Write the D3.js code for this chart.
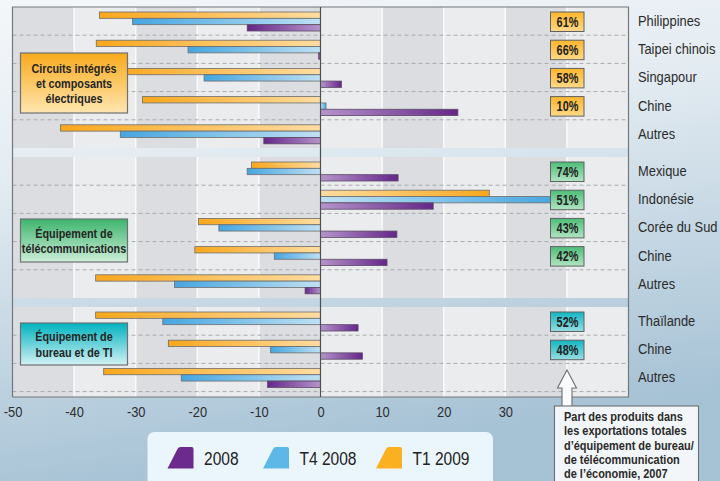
<!DOCTYPE html>
<html>
<head>
<meta charset="utf-8">
<script src="https://cdn.jsdelivr.net/npm/d3@7"></script>
<style>
  html, body { margin: 0; padding: 0; }
  body { width: 720px; height: 481px; overflow: hidden; }
  svg { display: block; }
</style>
</head>
<body>
<svg id="chart" width="720" height="481"></svg>
<script>
// ---------------------------------------------------------------------------
// Data (values in %)
// ---------------------------------------------------------------------------
const groupNames = [
  ["Circuits intégrés", "et composants", "électriques"],
  ["Équipement de", "télécommunications"],
  ["Équipement de", "bureau et de TI"],
];
const countries = [
  ["Philippines", "Taipei chinois", "Singapour", "Chine", "Autres"],
  ["Mexique", "Indonésie", "Corée du Sud", "Chine", "Autres"],
  ["Thaïlande", "Chine", "Autres"],
];
const seriesNames = ["T1 2009", "T4 2008", "2008"];   // top to bottom inside a row
const valT1_2009 = [
  [-35.9, -36.4, -33.5, -28.9, -42.2],
  [-11.2, 27.4, -19.8, -20.4, -36.5],
  [-36.5, -24.7, -35.2],
];
const valT4_2008 = [
  [-30.5, -21.5, -18.9, 0.9, -32.5],
  [-11.9, 38.5, -16.5, -7.5, -23.7],
  [-25.6, -8.1, -22.6],
];
const val2008 = [
  [-11.9, -0.3, 3.4, 22.3, -9.2],
  [12.6, 18.3, 12.4, 10.8, -2.5],
  [6.1, 6.8, -8.6],
];
const shares = [
  ["61%", "66%", "58%", "10%", null],
  ["74%", "51%", "43%", "42%", null],
  ["52%", "48%", null],
];
const xTicks = [-50, -40, -30, -20, -10, 0, 10, 20, 30];
const legendOrder = ["2008", "T4 2008", "T1 2009"];
const noteLines = [
  "Part des produits dans",
  "les exportations totales",
  "d\u2019équipement de bureau/",
  "de télécommunication",
  "de l\u2019économie, 2007",
];

// ---------------------------------------------------------------------------
// Style constants
// ---------------------------------------------------------------------------
const FONT = '"Liberation Sans", Arial, sans-serif';
// Colours keyed by series position in seriesNames (object keys like "2008"
// would be reordered by JS, so use a Map).
const SERIES_COLOR = new Map([
  ["T1 2009", { dark: "#f9a71c", light: "#ffdca0", swatch: "#fbb022" }],
  ["T4 2008", { dark: "#45a6e0", light: "#bfe0f4", swatch: "#5db8e8" }],
  ["2008",    { dark: "#652689", light: "#b595cb", swatch: "#6b2a8c" }],
]);
const GROUP_COLOR = [
  { top: "#f9aa1c", bot: "#fee6b0", badgeTop: "#fdb62a", badgeBot: "#fed888" },
  { top: "#3db46d", bot: "#cdeed8", badgeTop: "#4cbd77", badgeBot: "#b2e4c3" },
  { top: "#00b3bf", bot: "#d2f1f4", badgeTop: "#10b5c1", badgeBot: "#98dde3" },
];

const X0 = 12.5, X1 = 628.5;
const ROW_H = 28.2;
const panelTop = [7, 157, 307];
const PLOT_BOTTOM = 397;

// The reference uses a condensed face; squeeze Liberation Sans horizontally
// around each text's own x so anchors stay put.
function squeeze(sel, k) {
  sel.attr("transform", function () {
    const xv = +this.getAttribute("x") || 0;
    return `translate(${xv * (1 - k)},0) scale(${k},1)`;
  });
}

const svg = d3.select("#chart").style("font-family", FONT);
const defs = svg.append("defs");

// Background gradient
const bg = defs.append("linearGradient").attr("id", "bg")
  .attr("x1", 0).attr("y1", 0).attr("x2", 0.25).attr("y2", 1);
bg.append("stop").attr("offset", "0%").attr("stop-color", "#f4f7fa");
bg.append("stop").attr("offset", "35%").attr("stop-color", "#e4ecf2");
bg.append("stop").attr("offset", "100%").attr("stop-color", "#a6c2d5");
svg.append("rect").attr("width", 720).attr("height", 481).attr("fill", "url(#bg)");

function vGrad(id, top, bot) {
  const g = defs.append("linearGradient").attr("id", id)
    .attr("x1", 0).attr("y1", 0).attr("x2", 0).attr("y2", 1);
  g.append("stop").attr("offset", "0%").attr("stop-color", top);
  g.append("stop").attr("offset", "100%").attr("stop-color", bot);
}
// bar gradients: dark at the far end, light near zero
seriesNames.forEach((s, i) => {
  const c = SERIES_COLOR.get(s);
  ["neg", "pos"].forEach(dir => {
    const g = defs.append("linearGradient").attr("id", `bar${i}${dir}`)
      .attr("x1", dir === "neg" ? 0 : 1).attr("x2", dir === "neg" ? 1 : 0)
      .attr("y1", 0).attr("y2", 0);
    g.append("stop").attr("offset", "0%").attr("stop-color", c.dark);
    g.append("stop").attr("offset", "100%").attr("stop-color", c.light);
  });
});
GROUP_COLOR.forEach((c, i) => {
  vGrad(`box${i}`, c.top, c.bot);
  vGrad(`badge${i}`, c.badgeTop, c.badgeBot);
});

// ---------------------------------------------------------------------------
// Scales
// ---------------------------------------------------------------------------
const x = d3.scaleLinear().domain([-50, 50]).range([X0, X1]);
const yRow = countries.map((c, gi) => d3.scaleBand()
  .domain(c)
  .range([panelTop[gi], panelTop[gi] + c.length * ROW_H]));
const ySeries = d3.scaleBand().domain(seriesNames).range([5, 24]);

// ---------------------------------------------------------------------------
// Panels: alternating columns, gridlines, dashed row separators
// ---------------------------------------------------------------------------
const bands = d3.range(-50, 50, 10);
countries.forEach((c, gi) => {
  const top = panelTop[gi];
  const bottom = gi === 2 ? PLOT_BOTTOM : top + c.length * ROW_H;
  const p = svg.append("g");
  p.selectAll("rect.col").data(bands).join("rect")
    .attr("x", d => x(d)).attr("width", d => x(d + 10) - x(d))
    .attr("y", top).attr("height", bottom - top)
    .attr("fill", (d, i) => i % 2 === 0 ? "#dcdde0" : "#ebecee");
  p.selectAll("line.grid").data(bands.slice(1)).join("line")
    .attr("x1", d => x(d)).attr("x2", d => x(d))
    .attr("y1", top).attr("y2", bottom)
    .attr("stroke", "#fbfbfc").attr("stroke-width", 1.5);
  const seps = gi === 2 ? c : c.slice(0, -1);
  p.selectAll("line.sep").data(seps).join("line")
    .attr("x1", X0).attr("x2", X1)
    .attr("y1", d => yRow[gi](d) + ROW_H).attr("y2", d => yRow[gi](d) + ROW_H)
    .attr("stroke", "#a9abae").attr("stroke-dasharray", "4,3");
});

// Frame
svg.append("path")
  .attr("d", `M${X0},${PLOT_BOTTOM}V${panelTop[0]}H${X1}V${PLOT_BOTTOM}H${X0}`)
  .attr("fill", "none").attr("stroke", "#74777a").attr("stroke-width", 1.2);

// ---------------------------------------------------------------------------
// Bars
// ---------------------------------------------------------------------------
const seriesVals = [valT1_2009, valT4_2008, val2008];
const barData = [];
countries.forEach((c, gi) => c.forEach((name, ci) => {
  seriesNames.forEach((s, si) => {
    barData.push({ gi, name, s, si, v: seriesVals[si][gi][ci] });
  });
}));

svg.append("g").selectAll("rect").data(barData).join("rect")
  .attr("x", d => x(Math.min(0, d.v)))
  .attr("width", d => Math.abs(x(d.v) - x(0)))
  .attr("y", d => yRow[d.gi](d.name) + ySeries(d.s))
  .attr("height", ySeries.bandwidth())
  .attr("fill", d => `url(#bar${d.si}${d.v < 0 ? "neg" : "pos"})`)
  .attr("stroke", d => d.si === 2 ? "#5c4a66" : "#6d6d6d")
  .attr("stroke-width", 0.8);

// zero line
svg.append("line")
  .attr("x1", x(0)).attr("x2", x(0))
  .attr("y1", panelTop[0]).attr("y2", PLOT_BOTTOM)
  .attr("stroke", "#4d4f52").attr("stroke-width", 1.2);

// ---------------------------------------------------------------------------
// Share badges
// ---------------------------------------------------------------------------
const badgeData = [];
countries.forEach((c, gi) => c.forEach((name, ci) => {
  if (shares[gi][ci]) badgeData.push({ gi, name, t: shares[gi][ci] });
}));
const badge = svg.append("g").selectAll("g").data(badgeData).join("g")
  .attr("transform", d => `translate(550.5,${yRow[d.gi](d.name) + 5})`);
badge.append("rect")
  .attr("width", 33.5).attr("height", 19.5)
  .attr("fill", d => `url(#badge${d.gi})`)
  .attr("stroke", "#5f6163").attr("stroke-width", 1);
badge.append("text")
  .attr("x", 17).attr("y", 14.8)
  .attr("text-anchor", "middle")
  .attr("font-size", 14.5).attr("font-weight", "bold").attr("fill", "#222")
  .text(d => d.t)
  .call(squeeze, 0.75);

// ---------------------------------------------------------------------------
// Country labels
// ---------------------------------------------------------------------------
const labelData = [];
countries.forEach((c, gi) => c.forEach(name => labelData.push({ gi, name })));
svg.append("g").selectAll("text").data(labelData).join("text")
  .attr("x", 638).attr("y", d => yRow[d.gi](d.name) + 19)
  .attr("font-size", 15).attr("fill", "#2b2b2b")
  .text(d => d.name)
  .call(squeeze, 0.86);

// ---------------------------------------------------------------------------
// Group label boxes
// ---------------------------------------------------------------------------
const boxY = [[53, 113], [219, 262], [323, 365]];
groupNames.forEach((lines, gi) => {
  const [y0, y1] = boxY[gi];
  const g = svg.append("g");
  g.append("rect")
    .attr("x", 20.5).attr("y", y0).attr("width", 107).attr("height", y1 - y0)
    .attr("fill", `url(#box${gi})`).attr("stroke", "#6e7073").attr("stroke-width", 1.2);
  const lh = lines.length === 3 ? 14.6 : 15.4;
  const cy = (y0 + y1) / 2;
  g.selectAll("text").data(lines).join("text")
    .attr("x", 74).attr("text-anchor", "middle")
    .attr("y", (d, i) => cy + (i - (lines.length - 1) / 2) * lh + 5)
    .attr("font-size", 13.5).attr("font-weight", "bold").attr("fill", "#252525")
    .text(d => d)
    .call(squeeze, 0.8);
});

// ---------------------------------------------------------------------------
// X axis
// ---------------------------------------------------------------------------
const axis = svg.append("g")
  .attr("transform", `translate(0,${PLOT_BOTTOM})`)
  .call(d3.axisBottom(x).tickValues(xTicks).tickSize(0).tickPadding(9)
    .tickFormat(d3.format("d")));
axis.select(".domain").remove();
axis.selectAll("text")
  .attr("font-family", FONT).attr("font-size", 15).attr("fill", "#2e2e2e")
  .text(d => d < 0 ? "-" + Math.abs(d) : d)
  .call(squeeze, 0.86);

// ---------------------------------------------------------------------------
// Legend
// ---------------------------------------------------------------------------
const lg = svg.append("g");
lg.append("rect")
  .attr("x", 147.5).attr("y", 432).attr("width", 345.5).attr("height", 60)
  .attr("rx", 7).attr("fill", "#ebf6fc");
const legendX = d3.scaleOrdinal().domain(legendOrder).range([167.5, 263, 376]);
const item = lg.selectAll("g.item").data(legendOrder).join("g")
  .attr("transform", d => `translate(${legendX(d)},447)`);
item.append("path")
  .attr("d", "M0,21.5 L10,2 Q11,0 13,0 L24,0 Q26,0 26,2 L26,21.5 Z")
  .attr("fill", d => SERIES_COLOR.get(d).swatch);
item.append("text")
  .attr("x", 36.5).attr("y", 18)
  .attr("font-size", 18.5).attr("fill", "#222")
  .text(d => d)
  .call(squeeze, 0.84);

// ---------------------------------------------------------------------------
// Callout arrow + note box
// ---------------------------------------------------------------------------
svg.append("path")
  .attr("d", "M567,370 L576.5,388 L572,388 L572,406.5 L562,406.5 L562,388 L557.5,388 Z")
  .attr("fill", "#fafbfc").attr("stroke", "#6c6e70").attr("stroke-width", 1.1);
svg.append("rect")
  .attr("x", 554.5).attr("y", 406).attr("width", 144).attr("height", 90)
  .attr("fill", "#f3f6f8").attr("stroke", "#6c6e70").attr("stroke-width", 1.1);
svg.append("g").selectAll("text").data(noteLines).join("text")
  .attr("x", 564).attr("y", (d, i) => 421 + i * 14.3)
  .attr("font-size", 12.2).attr("font-weight", "bold").attr("fill", "#2a2a2a")
  .text(d => d)
  .call(squeeze, 0.9);
</script>
</body>
</html>
